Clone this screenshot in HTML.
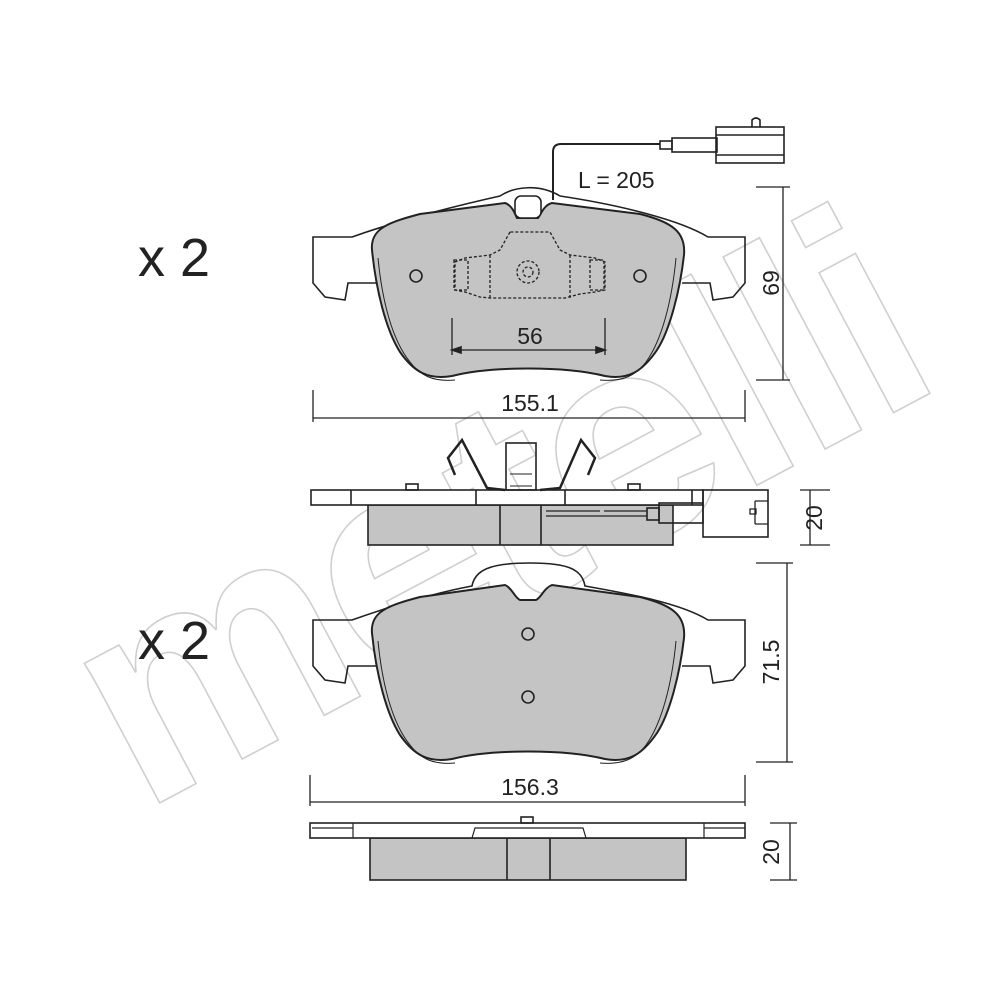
<!DOCTYPE html>
<html><head><meta charset="utf-8"><style>
html,body{margin:0;padding:0;background:#fff;}
svg{display:block;}
text{font-family:"Liberation Sans",Arial,sans-serif;fill:#222;}
</style></head><body>
<svg width="1000" height="1000" viewBox="0 0 1000 1000" xmlns="http://www.w3.org/2000/svg">
<!-- watermark -->
<g transform="translate(500,520) rotate(-28)">
<text x="0" y="90" text-anchor="middle" font-size="300" font-weight="bold" style="fill:none;stroke:#cfcfcf;stroke-width:1.6;letter-spacing:-6px">metelli</text>
</g>

<g fill="none" stroke="#222" stroke-width="1.6">
<!-- ===== TOP PAD ===== -->
<path d="M378,283 L348,283 L345,300 L325,297 L313,283 L313,237 L352,237 C400,220 460,205 500,196 C515,186 540,184 560,196 C620,205 680,220 708,237 L745,237 L745,283 L733,297 L713,300 L710,283 L682,283"/>
<path fill="#c4c4c4" stroke-width="2" d="M372,250 C370,228 390,222 420,214 L505,203 C512,205 515,214 517,218 L538,218 C541,214 544,205 552,203 L640,214 C672,222 686,232 684,255 C680,290 670,330 657,350 C642,372 628,380 605,376 C565,366 490,366 452,376 C428,380 414,372 400,352 C386,330 376,290 372,250 Z"/>
<path d="M378,258 C382,300 392,340 410,362 C420,375 432,382 455,380" stroke-width="1"/>
<path d="M676,258 C672,300 662,340 646,362 C636,375 624,382 600,380" stroke-width="1"/>
<rect x="515" y="196" width="26" height="22" rx="6" fill="#fff"/>
<g stroke-dasharray="3,2" stroke-width="1.3">
<path d="M510,232 L500,250 L490,255 L465,258 L455,262 L455,290 L465,292 L480,297 L490,298 L565,298 L580,294 L595,292 L605,290 L605,262 L595,258 L570,255 L560,250 L550,232 Z"/>
<path d="M490,255 L490,298 M570,255 L570,298"/>
<circle cx="528" cy="272" r="11"/><circle cx="528" cy="272" r="5"/>
<rect x="454" y="260" width="14" height="30"/><rect x="590" y="260" width="14" height="30"/>
</g>
<circle cx="416" cy="276" r="6"/><circle cx="640" cy="276" r="6"/>
<!-- wire -->
<path d="M553,200 L553,152 Q553,144 561,144 L660,144" stroke-width="2"/>
<rect x="660" y="141" width="12" height="8"/>
<rect x="672" y="138" width="45" height="14"/>
<rect x="716" y="127" width="68" height="36"/>
<path d="M716,135 L784,135 M716,155 L784,155 M752,127 L752,120 Q756,116 760,120 L760,127"/>
<!-- dims -->
<path d="M452,318 L452,355 M605,318 L605,355 M452,350 L605,350" stroke-width="1.3"/>
<path d="M452,350 l9,-3 v6 z M605,350 l-9,-3 v6 z" fill="#222"/>
<path d="M313,390 L313,422 M745,390 L745,422 M313,418 L745,418 M756,187 L790,187 M756,380 L790,380 M783,187 L783,380" stroke-width="1.3"/>
</g>
<text x="530" y="344" font-size="23" text-anchor="middle">56</text>
<text x="530" y="411" font-size="23" text-anchor="middle">155.1</text>
<text x="578" y="188" font-size="23">L = 205</text>
<text transform="translate(779,283) rotate(-90)" font-size="23" text-anchor="middle">69</text>
<text x="138" y="276" font-size="54">x 2</text>

<!-- ===== SIDE VIEW 1 ===== -->
<g fill="none" stroke="#222" stroke-width="1.6">
<rect x="368" y="505" width="305" height="40" fill="#c4c4c4"/>
<path d="M500,505 V545 M541,505 V545"/>
<rect x="311" y="490" width="392" height="15" fill="#fff"/>
<path d="M351,490 V505 M476,490 V505 M565,490 V505 M692,490 V505"/>
<rect x="406" y="484" width="12" height="6"/><rect x="628" y="484" width="12" height="6"/>
<rect x="506" y="443" width="30" height="47"/>
<path d="M510,474 H532 M510,486 H532" stroke-width="1"/>
<path d="M455,475 L448,458 L462,440 L487,488 L505,490" stroke-width="2.5"/>
<path d="M588,475 L595,458 L581,440 L560,488 L540,490" stroke-width="2.5"/>
<path d="M546,511 H600 M604,511 H647 M546,516 H647" stroke-width="1.2"/>
<rect x="647" y="508" width="12" height="12"/>
<rect x="659" y="503" width="44" height="20"/>
<rect x="703" y="490" width="65" height="47"/>
<path d="M755,501 H768 M755,524 H768 M755,501 V524 M750,509 H756 V514 H750Z" stroke-width="1.3"/>
<path d="M800,490 H830 M800,545 H830 M810,490 V545" stroke-width="1.3"/>
</g>
<text transform="translate(822,518) rotate(-90)" font-size="23" text-anchor="middle">20</text>

<!-- ===== BOTTOM PAD ===== -->
<g fill="none" stroke="#222" stroke-width="1.6">
<path d="M378,666 L348,666 L345,683 L325,680 L313,666 L313,620 L352,620 C400,603 440,592 472,586 C475,570 490,563 530,563 C570,563 582,570 585,586 C630,594 680,603 708,620 L745,620 L745,666 L733,680 L713,683 L710,666 L682,666"/>
<path fill="#c4c4c4" stroke-width="2" d="M372,633 C370,611 390,605 420,597 L505,585 C512,588 515,598 520,600 L536,600 C541,598 544,588 552,585 L640,597 C672,605 686,615 684,638 C680,673 670,713 657,733 C642,755 628,763 605,759 C565,749 490,749 452,759 C428,763 414,755 400,735 C386,713 376,673 372,633 Z"/>
<path d="M378,641 C382,683 392,723 410,745 C420,758 432,765 455,763" stroke-width="1"/>
<path d="M676,641 C672,683 662,723 646,745 C636,758 624,765 600,763" stroke-width="1"/>
<circle cx="528" cy="634" r="6"/><circle cx="528" cy="697" r="6"/>
<path d="M310,775 L310,806 M745,775 L745,806 M310,802 L745,802 M756,563 L793,563 M756,762 L793,762 M787,563 L787,762" stroke-width="1.3"/>
<!-- side view 2 -->
<rect x="370" y="838" width="316" height="42" fill="#c4c4c4"/>
<path d="M507,838 V880 M550,838 V880"/>
<rect x="310" y="823" width="435" height="15" fill="#fff"/>
<path d="M353,823 V838 M704,823 V838 M472,838 L475,828 L583,828 L586,838 M312,828 H353 M704,828 H745" stroke-width="1.2"/>
<rect x="521" y="817" width="12" height="6"/>
<path d="M770,823 H797 M770,880 H797 M790,823 V880" stroke-width="1.3"/>
</g>
<text x="530" y="795" font-size="23" text-anchor="middle">156.3</text>
<text transform="translate(779,662) rotate(-90)" font-size="23" text-anchor="middle">71.5</text>
<text transform="translate(779,852) rotate(-90)" font-size="23" text-anchor="middle">20</text>
<text x="138" y="659" font-size="54">x 2</text>
</svg>
</body></html>
